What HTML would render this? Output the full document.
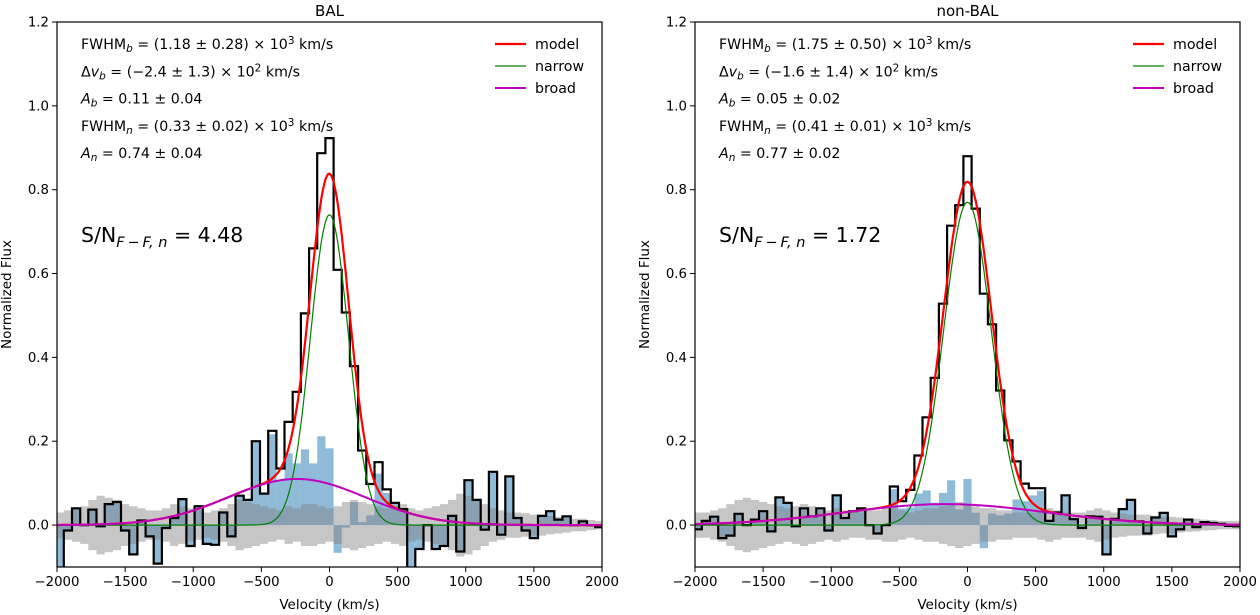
<!DOCTYPE html>
<html><head><meta charset="utf-8"><style>
html,body{margin:0;padding:0;background:#fff;}
svg{display:block;font-family:"DejaVu Sans","Liberation Sans",sans-serif;}
</style></head><body>
<svg id="fig" width="1260" height="615" viewBox="0 0 1260 615" xmlns="http://www.w3.org/2000/svg"></svg>
<script>
// ---- data ----
const binWidth = 60; // km/s, bins centred on k*binWidth, k=-33..33
const fluxBAL = [-0.11,-0.013,0.04,0.0,0.037,-0.003,0.05,0.055,-0.013,-0.07,0.011,-0.027,-0.092,-0.007,0.017,0.062,-0.05,0.045,-0.045,-0.047,0.03,-0.027,0.07,0.06,0.2,0.075,0.225,0.135,0.246,0.318,0.505,0.66,0.887,
 0.923,
 0.609,0.507,0.379,0.178,0.098,0.15,0.085,0.053,0.038,-0.12,-0.057,0.0,-0.057,-0.05,0.022,-0.063,0.107,0.06,-0.011,0.127,-0.023,0.116,0.017,-0.013,-0.031,0.022,0.033,0.013,0.021,0.0,0.009,0.0,-0.005];
const fluxNonBAL = [-0.01,0.01,0.02,-0.031,-0.025,0.027,0.0,0.013,0.033,-0.015,0.066,0.053,-0.003,0.04,0.021,0.04,-0.013,0.071,0.017,0.033,0.04,0.0,-0.02,0.0,0.092,0.057,0.084,0.166,0.257,0.351,0.528,0.714,0.763,
 0.88,
 0.755,0.552,0.479,0.321,0.202,0.152,0.099,0.088,0.088,0.01,0.03,0.071,0.014,-0.007,0.021,0.02,-0.07,0.015,0.038,0.06,0.009,-0.02,0.018,0.029,-0.027,-0.01,0.013,-0.005,0.007,0.005,0.003,-0.002,-0.003];
const errBAL = [0.03,0.035,0.04,0.045,0.06,0.07,0.065,0.06,0.05,0.045,0.04,0.035,0.035,0.04,0.05,0.045,0.04,0.035,0.03,0.035,0.04,0.05,0.06,0.055,0.05,0.045,0.04,0.035,0.045,0.04,0.05,0.05,0.045,
 0.04,
 0.045,0.055,0.06,0.055,0.05,0.045,0.04,0.045,0.05,0.04,0.035,0.04,0.045,0.05,0.06,0.075,0.07,0.06,0.05,0.04,0.035,0.03,0.03,0.028,0.025,0.025,0.022,0.02,0.018,0.015,0.015,0.012,0.01];
const errNonBAL = [0.03,0.03,0.035,0.04,0.05,0.06,0.065,0.06,0.055,0.05,0.045,0.04,0.045,0.05,0.045,0.04,0.035,0.04,0.035,0.03,0.03,0.035,0.035,0.04,0.04,0.035,0.03,0.035,0.04,0.04,0.045,0.05,0.055,
 0.05,
 0.045,0.04,0.04,0.035,0.035,0.03,0.03,0.03,0.035,0.04,0.035,0.03,0.03,0.03,0.035,0.04,0.035,0.03,0.028,0.025,0.025,0.025,0.022,0.02,0.02,0.018,0.016,0.015,0.013,0.012,0.01,0.01,0.01];
const fitBAL = {An:0.74, FWHMn:330, vn:0, Ab:0.11, FWHMb:1180, vb:-240};
const fitNonBAL = {An:0.77, FWHMn:410, vn:0, Ab:0.05, FWHMb:1750, vb:-160};
const xTicks = [-2000,-1500,-1000,-500,0,500,1000,1500,2000];
const xTickLabels = ["\u22122000","\u22121500","\u22121000","\u2212500","0","500","1000","1500","2000"];
const yTicks = [0.0,0.2,0.4,0.6,0.8,1.0,1.2];
const yTickLabels = ["0.0","0.2","0.4","0.6","0.8","1.0","1.2"];
const annotBAL = [["FWHM","b"," = (1.18 \u00b1 0.28) \u00d7 10","3"," km/s"],["\u0394v","b"," = (\u22122.4 \u00b1 1.3) \u00d7 10","2"," km/s"],["A","b"," = 0.11 \u00b1 0.04"],["FWHM","n"," = (0.33 \u00b1 0.02) \u00d7 10","3"," km/s"],["A","n"," = 0.74 \u00b1 0.04"]];
const annotNonBAL = [["FWHM","b"," = (1.75 \u00b1 0.50) \u00d7 10","3"," km/s"],["\u0394v","b"," = (\u22121.6 \u00b1 1.4) \u00d7 10","2"," km/s"],["A","b"," = 0.05 \u00b1 0.02"],["FWHM","n"," = (0.41 \u00b1 0.01) \u00d7 10","3"," km/s"],["A","n"," = 0.77 \u00b1 0.02"]];

const NS = "http://www.w3.org/2000/svg";
const svg = document.getElementById('fig');
function mk(tag, attrs, parent){const e=document.createElementNS(NS,tag);for(const k in attrs)e.setAttribute(k,attrs[k]);(parent||svg).appendChild(e);return e;}
function gauss(v,A,fw,c){const s=fw/2.3548;return A*Math.exp(-0.5*((v-c)/s)**2);}

function panel(x0,x1,title,flux,err,fit,annot,sn,idx){
  const y0=22,y1=567,ymin=-0.1,ymax=1.2,xmin=-2000,xmax=2000;
  const X=v=>x0+(v-xmin)/(xmax-xmin)*(x1-x0);
  const Y=f=>y1-(f-ymin)/(ymax-ymin)*(y1-y0);
  const g=mk('g',{});
  
  
  const cid='clip'+idx;
  const cp=mk('clipPath',{id:cid},g);mk('rect',{x:x0,y:y0,width:x1-x0,height:y1-y0},cp);
  const pg=mk('g',{'clip-path':'url(#'+cid+')'},g);
  const n=flux.length,half=(n-1)/2;
  const lo=k=>(k-half)*binWidth-binWidth/2, hi=k=>(k-half)*binWidth+binWidth/2;
  // residual (blue)
  for(let k=0;k<n;k++){
    const vc=(k-half)*binWidth;
    const r=flux[k]-gauss(vc,fit.An,fit.FWHMn,fit.vn);
    const r1=mk('rect',{x:X(lo(k)),y:Math.min(Y(0),Y(r)),width:X(hi(k))-X(lo(k)),height:Math.abs(Y(r)-Y(0)),fill:'#1f77b4','fill-opacity':0.5},pg);
    
    
  }
  // error band (gray) as one polygon
  let up='',dn='';
  for(let k=0;k<n;k++){up+=(k?'L':'M')+X(lo(k)).toFixed(1)+','+Y(err[k]).toFixed(1)+'L'+X(hi(k)).toFixed(1)+','+Y(err[k]).toFixed(1);}
  for(let k=n-1;k>=0;k--){dn+='L'+X(hi(k)).toFixed(1)+','+Y(-err[k]).toFixed(1)+'L'+X(lo(k)).toFixed(1)+','+Y(-err[k]).toFixed(1);}
  const eb=mk('path',{d:up+dn+'Z',fill:'#808080','fill-opacity':0.45},pg);
  
  
  // step
  let d='';
  for(let k=0;k<n;k++){d+=(k?'L':'M')+X(lo(k)).toFixed(1)+','+Y(flux[k]).toFixed(1)+'L'+X(hi(k)).toFixed(1)+','+Y(flux[k]).toFixed(1);}
  const st=mk('path',{d:d,fill:'none',stroke:'#000','stroke-width':2.2},pg);
  
  
  // curves
  const curves=[['narrow','#008000',1.2,v=>gauss(v,fit.An,fit.FWHMn,fit.vn)],['broad','#bf00bf',2,v=>gauss(v,fit.Ab,fit.FWHMb,fit.vb)],['model','#ff0000',2.2,v=>gauss(v,fit.An,fit.FWHMn,fit.vn)+gauss(v,fit.Ab,fit.FWHMb,fit.vb)]];
  const order=[2,0,1];
  for(const i of order){const c=curves[i];let p='';
    for(let v=-2000;v<=2000;v+=10){p+=(v===-2000?'M':'L')+X(v).toFixed(1)+','+Y(c[3](v)).toFixed(1);}
    const pe=mk('path',{d:p,fill:'none',stroke:c[1],'stroke-width':c[2]},pg);
    
    
  }
  // frame
  const fr=mk('rect',{x:x0,y:y0,width:x1-x0,height:y1-y0,fill:'none',stroke:'#000','stroke-width':1.2},g);
  
  
  // ticks
  xTicks.forEach((t,i)=>{mk('line',{x1:X(t),x2:X(t),y1:y1,y2:y1+5,stroke:'#000','stroke-width':1},g);
    const tx=mk('text',{x:X(t),y:y1+19,'font-size':13.3,'text-anchor':'middle'},g);tx.textContent=xTickLabels[i];
    
    });
  yTicks.forEach((t,i)=>{mk('line',{x1:x0-5,x2:x0,y1:Y(t),y2:Y(t),stroke:'#000','stroke-width':1},g);
    const tx=mk('text',{x:x0-8,y:Y(t)+4.5,'font-size':13.3,'text-anchor':'end'},g);tx.textContent=yTickLabels[i];
    
    });
  const xl=mk('text',{x:(x0+x1)/2,y:609,'font-size':13.5,'text-anchor':'middle'},g);xl.textContent='Velocity (km/s)';
  
  
  const yx=x0-46,yy=(y0+y1)/2;
  const yl=mk('text',{x:yx,y:yy,'font-size':13.5,'text-anchor':'middle',transform:`rotate(-90 ${yx} ${yy})`},g);yl.textContent='Normalized Flux';
  
  
  const tt=mk('text',{x:(x0+x1)/2,y:16,'font-size':15,'text-anchor':'middle'},g);tt.textContent=title;
  
  
  // annotations
  annot.forEach((a,i)=>{
    const t=mk('text',{x:x0+24,y:49+i*27.3,'font-size':14.2},g);
    
    
    const italic=(a[0]==='A');
    if(a[0]==='\u0394v'){const d1=mk('tspan',{},t);d1.textContent='\u0394';const d2=mk('tspan',{'font-style':'italic'},t);d2.textContent='v';}
    else{const m=mk('tspan',italic?{'font-style':'italic'}:{},t);m.textContent=a[0];}
    const s=mk('tspan',{'font-size':10.5,'font-style':'italic',dy:3},t);s.textContent=a[1];
    const r=mk('tspan',{dy:-3},t);r.textContent=a[2];
    if(a.length>3){const e=mk('tspan',{'font-size':10.5,dy:-5},t);e.textContent=a[3];const k=mk('tspan',{dy:5},t);k.textContent=a[4];}
  });
  const snt=mk('text',{x:x0+24,y:242,'font-size':20.5},g);
  
  
  const a1=mk('tspan',{},snt);a1.textContent='S/N';
  const a2=mk('tspan',{'font-size':14.5,'font-style':'italic',dy:5},snt);a2.textContent='F\u2009\u2212\u2009F, n';
  const a3=mk('tspan',{dy:-5},snt);a3.textContent=' = '+sn;
  // legend
  const lx=x1-107;
  [['model','#ff0000',2.2],['narrow','#008000',1.2],['broad','#bf00bf',2]].forEach((l,i)=>{
    const ly=44+i*22;
    const lg=mk('g',{},g);
    
    
    mk('line',{x1:lx,x2:lx+31,y1:ly,y2:ly,stroke:l[1],'stroke-width':l[2]},lg);
    const t=mk('text',{x:lx+40,y:ly+5,'font-size':14.2},lg);t.textContent=l[0];
  });
}
panel(57,602,'BAL',fluxBAL,errBAL,fitBAL,annotBAL,'4.48',0);
panel(695,1240,'non-BAL',fluxNonBAL,errNonBAL,fitNonBAL,annotNonBAL,'1.72',1);
</script>
</body></html>
